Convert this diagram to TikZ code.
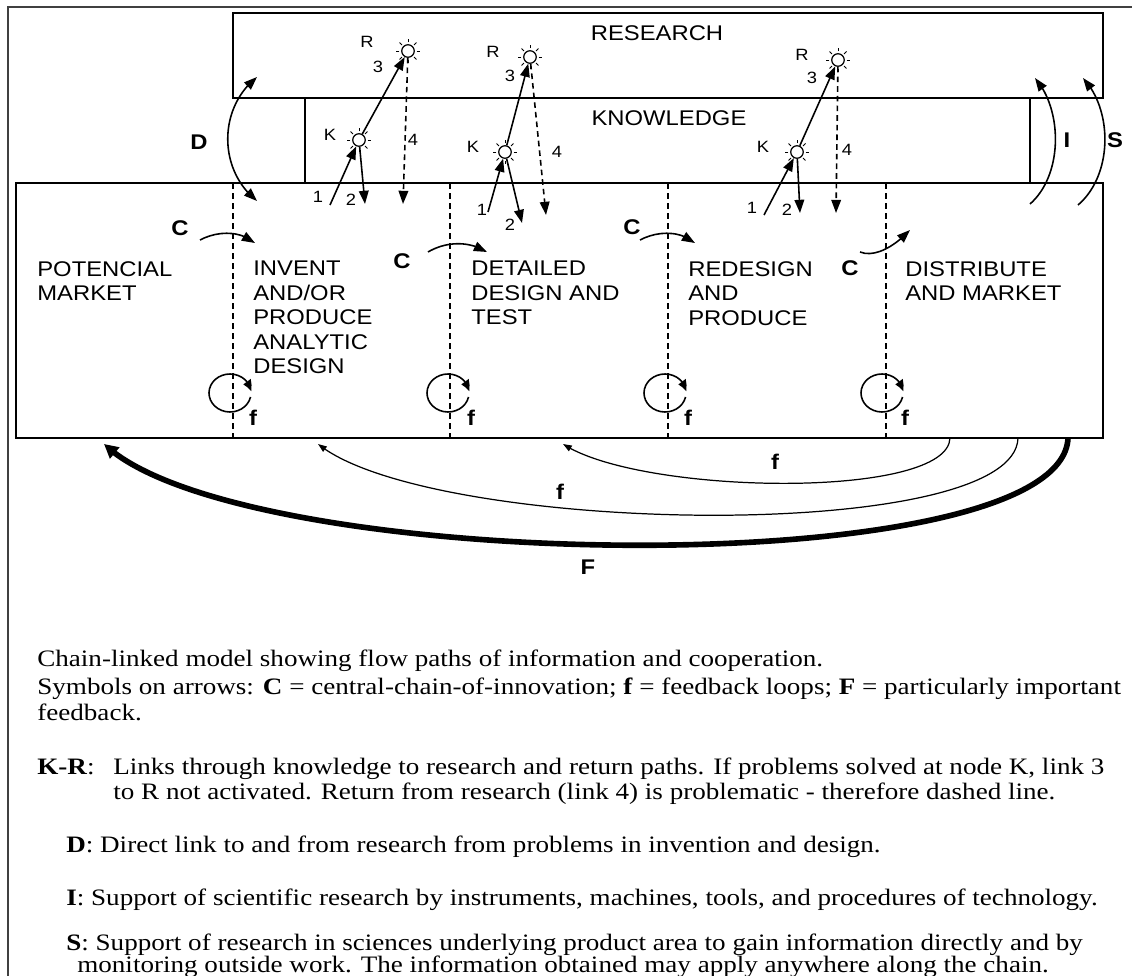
\documentclass[tikz,border=0pt]{standalone}
\usepackage{fontspec}
\setmainfont{Liberation Serif}
\setsansfont{Liberation Sans}
\newfontfamily\labelfont{Liberation Sans}[FakeStretch=1.12]
\newfontfamily\capfont{Liberation Serif}[FakeStretch=1.15]
\usetikzlibrary{arrows.meta,calc,bending}

% short rays around a sun node
\newcommand\sunrays[1]{%
  \foreach \a in {0,45,...,315}
    \draw[line width=0.55pt] ($(#1.center)!1.25!(#1.\a)$) -- ($(#1.center)!1.75!(#1.\a)$);}

\begin{document}
\begin{tikzpicture}[x=0.02cm,y=-0.02cm,
  frame/.style={line width=0.8pt, draw=black!75},
  boxline/.style={line width=1.1pt},
  divider/.style={line width=0.9pt, dash pattern=on 3.4pt off 2.3pt},
  tip/.style={-{Triangle[length=7.5pt,width=5.5pt]}},
  link/.style={line width=0.9pt, tip},
  backlink/.style={line width=0.7pt, -{Triangle[length=5pt,width=3.6pt]}},
  sun/.style={circle, draw, line width=0.7pt, fill=white, minimum size=0.25cm, inner sep=0pt},
  lbl/.style={font=\labelfont\fontsize{12.1}{13.9}\selectfont, align=left, anchor=north west, inner sep=0pt},
  sym/.style={font=\labelfont\bfseries\fontsize{12.1}{14}\selectfont, inner sep=0pt},
  small/.style={font=\labelfont\fontsize{9.3}{11}\selectfont, inner sep=0pt},
  captxt/.style={font=\capfont\fontsize{13.4}{15}\selectfont, anchor=base west, inner sep=0pt},
]
\useasboundingbox (0,0) rectangle (1132,976);

% page frame
\draw[frame] (8,976) -- (8,7) -- (1132,7);

% research, knowledge and the central chain
\node[draw, boxline, minimum width=17.4cm, minimum height=1.7cm, inner sep=0pt] (research) at (668,55.5) {};
\node[draw, boxline, minimum width=21.74cm, minimum height=5.1cm, inner sep=0pt] (chain) at (559.5,310.5) {};
\draw[boxline] (305,98) -- (305,183);
\draw[boxline] (1030,98) -- (1030,183);
\node[lbl, anchor=center] (tres) at (657,33) {RESEARCH};
\node[lbl, anchor=center] (tknow) at (669,118) {KNOWLEDGE};

% stage dividers
\foreach \x in {233,450,668,886}
  \draw[divider] (\x,183) -- (\x,438);

% stage labels
\node[lbl] (s1) at (37,261) {POTENCIAL\\MARKET};
\node[lbl] (s2) at (253,261) {INVENT\\AND/OR\\PRODUCE\\ANALYTIC\\DESIGN};
\node[lbl] (s3) at (471,261) {DETAILED\\DESIGN AND\\TEST};
\node[lbl] (s4) at (688,261) {REDESIGN\\AND\\PRODUCE};
\node[lbl] (s5) at (905,261) {DISTRIBUTE\\AND MARKET};

% knowledge and research nodes
\node[sun] (k1) at (359,140) {};
\node[sun] (r1) at (408,51) {};
\node[sun] (k2) at (505,152) {};
\node[sun] (r2) at (530,57) {};
\node[sun] (k3) at (797,152) {};
\node[sun] (r3) at (838,60) {};
\sunrays{k1}\sunrays{r1}\sunrays{k2}\sunrays{r2}\sunrays{k3}\sunrays{r3}

% loose ends of links 1, 2 and 4
\coordinate (a1) at (330,205);
\coordinate (b1) at (365,204);
\coordinate (d1) at (403,204);
\coordinate (a2) at (488,212);
\coordinate (b2) at (522,223);
\coordinate (d2) at (546,215);
\coordinate (a3) at (764,215);
\coordinate (b3) at (800,213);
\coordinate (d3) at (836,213);

\foreach \i in {1,2,3} {
  \draw[link] (a\i) -- (k\i);
  \draw[link] (k\i) -- (b\i);
  \draw[link] (k\i) -- (r\i);
  \draw[link, dash pattern=on 3.2pt off 2.3pt] (r\i) -- (d\i);
}

% link labels
\node[small] (lk1) at (330,135) {K};
\node[small] (lr1) at (367,42) {R};
\node[small] (l31) at (378,67) {3};
\node[small] (l41) at (413,140) {4};
\node[small] (l11) at (318,197) {1};
\node[small] (l21) at (351,200) {2};
\node[small] (lk2) at (473,147) {K};
\node[small] (lr2) at (493,52) {R};
\node[small] (l32) at (510,76) {3};
\node[small] (l42) at (557,152) {4};
\node[small] (l12) at (482,210) {1};
\node[small] (l22) at (510,225) {2};
\node[small] (lk3) at (763,147) {K};
\node[small] (lr3) at (802,55) {R};
\node[small] (l33) at (812,78) {3};
\node[small] (l43) at (847,150) {4};
\node[small] (l13) at (752,208) {1};
\node[small] (l23) at (787,210) {2};

% D, I and S links
\coordinate (dtop) at (257,77);
\coordinate (dbot) at (257,201);
\draw[link, {Triangle[length=7.5pt,width=5.5pt]}-{Triangle[length=7.5pt,width=5.5pt]}]
  (dbot) .. controls (218,170) and (218,108) .. (dtop);
\node[sym] (ld) at (199,142) {D};
\coordinate (ibot) at (1030,204);
\coordinate (itop) at (1035,78);
\draw[link] (ibot) .. controls (1063,175) and (1063,110) .. (itop);
\node[sym] (li) at (1067,140) {I};
\coordinate (sbot) at (1078,205);
\coordinate (stop) at (1083,78);
\draw[link] (sbot) .. controls (1113,175) and (1113,110) .. (stop);
\node[sym] (ls) at (1115,140) {S};

% central chain arrows
\coordinate (c1a) at (200,240); \coordinate (c1b) at (255,243);
\draw[link] (c1a) .. controls (215,232) and (238,229) .. (c1b);
\node[sym] (lc1) at (180,228) {C};
\coordinate (c2a) at (428,252); \coordinate (c2b) at (487,252);
\draw[link] (c2a) .. controls (445,242) and (468,240) .. (c2b);
\node[sym] (lc2) at (402,261) {C};
\coordinate (c3a) at (640,240); \coordinate (c3b) at (695,243);
\draw[link] (c3a) .. controls (655,232) and (678,229) .. (c3b);
\node[sym] (lc3) at (632,227) {C};
\coordinate (c4a) at (860,252); \coordinate (c4b) at (910,230);
\draw[link] (c4a) .. controls (875,258) and (895,246) .. (c4b);
\node[sym] (lc4) at (850,268) {C};

% local feedback loops
\foreach \x/\n in {230/1,448/2,665/3,882/4} {
  \draw[line width=0.9pt, -{Triangle[length=6pt,width=5pt,bend]}]
    (\x,393) ++(12:21 and 19) arc[start angle=12, end angle=355, x radius=21, y radius=19];
  \node[sym] (lf\n) at (\x+23,418) {f};
}

% feedback paths back along the chain
\coordinate (fa) at (950,438); \coordinate (fb) at (563,444);
\draw[backlink] (fa) .. controls (948,500) and (640,495) .. (fb);
\node[sym] (lfa) at (775,462) {f};
\coordinate (ga) at (1018,438); \coordinate (gb) at (318,444);
\draw[backlink] (ga) .. controls (1015,545) and (430,535) .. (gb);
\node[sym] (lfb) at (560,492) {f};
\coordinate (ha) at (1068,438); \coordinate (hb) at (104,444);
\draw[line width=3.2pt, -{Triangle[length=8pt,width=8pt]}] (ha) .. controls (1062,585) and (240,575) .. (hb);
\node[sym] (lbigf) at (588,567) {F};

% legend
\node[captxt] (t1) at (37,666) {Chain-linked model showing flow paths of information and cooperation.};
\node[captxt] (t2) at (37,694) {Symbols on arrows: \textbf{C} = central-chain-of-innovation; \textbf{f} = feedback loops; \textbf{F} = particularly important};
\node[captxt] (t3) at (37,720) {feedback.};
\node[captxt] (t4) at (37,774) {\textbf{K-R}:};
\node[captxt] (t5) at (113,774) {Links through knowledge to research and return paths. If problems solved at node K, link 3};
\node[captxt] (t6) at (113,799) {to R not activated. Return from research (link 4) is problematic - therefore dashed line.};
\node[captxt] (t7) at (66,852) {\textbf{D}: Direct link to and from research from problems in invention and design.};
\node[captxt] (t8) at (66,905) {\textbf{I}: Support of scientific research by instruments, machines, tools, and procedures of technology.};
\node[captxt] (t9) at (66,950) {\textbf{S}: Support of research in sciences underlying product area to gain information directly and by};
\node[captxt] (t10) at (77,972) {monitoring outside work. The information obtained may apply anywhere along the chain.};
\end{tikzpicture}
\end{document}
